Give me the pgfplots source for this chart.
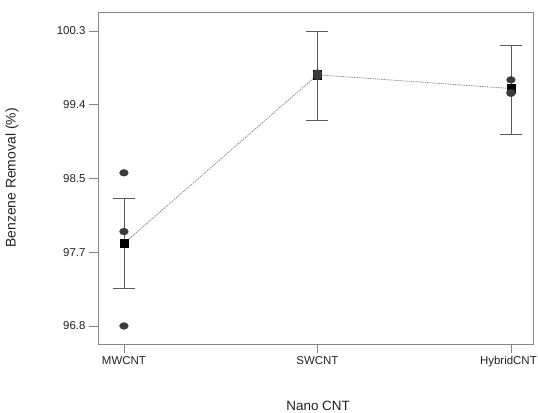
\documentclass[border=0pt]{standalone}
\usepackage{pgfplots}
\pgfplotsset{compat=1.18}
\usepackage{fontspec}
\setmainfont{Liberation Sans}
\definecolor{axgray}{HTML}{858585}
\definecolor{ptgray}{HTML}{3A3A3A}
\definecolor{bargray}{HTML}{5A5A5A}
\definecolor{txt}{HTML}{222222}
\begin{document}
\begin{tikzpicture}
\useasboundingbox (-98bp,-69bp) rectangle (440bp,344bp);
\begin{axis}[
  at={(0,0)}, anchor=south west,
  scale only axis,
  width=435bp, height=332bp,
  xmin=-0.134, xmax=2.114,
  ymin=96.586, ymax=100.525,
  xtick={0,1,2},
  xticklabels={MWCNT,SWCNT,{\hspace*{-5bp}HybridCNT}},
  ytick={96.8,97.675,98.55,99.425,100.3},
  yticklabels={96.8,97.7,98.5,99.4,100.3},
  xtick pos=lower, ytick pos=left,
  tick align=outside,
  major tick length=9bp,
  tick style={axgray, line width=0.7pt},
  axis line style={axgray, line width=0.8pt},
  ticklabel style={font=\fontsize{11.5}{14}\selectfont, text=txt},
  xlabel={Nano CNT},
  ylabel={Benzene Removal (\%)},
  xlabel style={font=\fontsize{13.5}{16}\selectfont, text=txt,
    at={(axis description cs:0.506,-0.199)}, anchor=base},
  ylabel style={font=\fontsize{14}{17}\selectfont, text=txt,
    at={(axis description cs:-0.1977,0.5)}, anchor=center},
  clip=false,
]
% error bars (mean +- SE)
\addplot[draw=none, mark=none,
  error bars/.cd, y dir=both, y explicit,
  error bar style={bargray, line width=0.8pt},
  error mark options={rotate=90, mark size=11bp, bargray, line width=0.8pt}]
  coordinates {
    (0,97.78) +- (0,0.53)
    (1,99.77) +- (0,0.53)
    (2,99.60) +- (0,0.53)
  };
% connect means
\addplot[axgray, dash pattern=on 1.3pt off 1pt, line width=0.8pt, mark=none]
  coordinates {(0,97.78) (1,99.78) (2,99.617)};
% means
\addplot[only marks, mark=square*, mark size=4.2bp, black]
  coordinates {(0,97.78) (1,99.78) (2,99.617)};
% individual observations
\addplot[only marks, mark=*, mark size=3.4bp, ptgray,
  mark options={xscale=1.28, fill=ptgray, draw=ptgray}]
  coordinates {
    (0,98.617) (0,97.92) (0,96.80)
    (1,99.80) (1,99.78) (1,99.76)
    (2,99.72) (2,99.57) (2,99.56)
  };
\end{axis}
\end{tikzpicture}
\end{document}
